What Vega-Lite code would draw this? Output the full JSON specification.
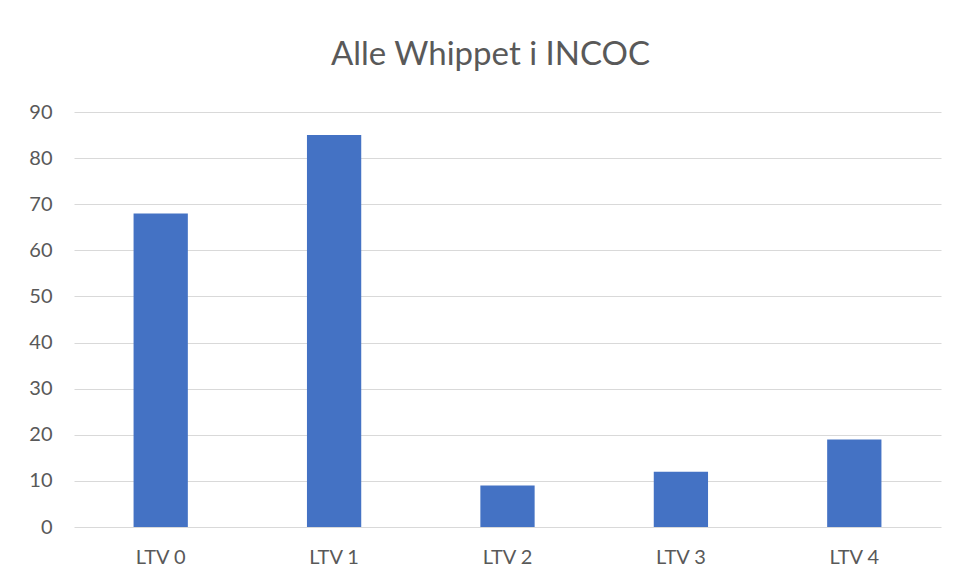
{
  "$schema": "https://vega.github.io/schema/vega-lite/v6.json",
  "width": 867,
  "height": 415,
  "autosize": {"type": "none"},
  "padding": {"left": 74, "top": 112, "right": 18, "bottom": 54},
  "background": "white",
  "config": {"view": {"stroke": null}, "font": "Lato"},
  "title": {
    "text": "Alle Whippet i INCOC",
    "font": "Lato",
    "fontSize": 33,
    "fontWeight": "normal",
    "color": "#595959",
    "anchor": "middle",
    "baseline": "alphabetic",
    "offset": 4,
    "dx": -17
  },
  "data": {
    "values": [
      {"kategori": "LTV 0", "antal": 68},
      {"kategori": "LTV 1", "antal": 85},
      {"kategori": "LTV 2", "antal": 9},
      {"kategori": "LTV 3", "antal": 12},
      {"kategori": "LTV 4", "antal": 19}
    ]
  },
  "mark": {"type": "bar", "color": "#4472C4"},
  "encoding": {
    "x": {
      "field": "kategori",
      "type": "nominal",
      "sort": null,
      "scale": {"paddingInner": 0.687, "paddingOuter": 0.3435},
      "axis": {
        "title": null,
        "labelAngle": 0,
        "labelFont": "Lato",
        "labelFontSize": 20,
        "labelColor": "#595959",
        "ticks": false,
        "domain": false,
        "labelPadding": 20
      }
    },
    "y": {
      "field": "antal",
      "type": "quantitative",
      "scale": {"domain": [0, 90], "nice": false},
      "axis": {
        "title": null,
        "values": [0, 10, 20, 30, 40, 50, 60, 70, 80, 90],
        "labelFont": "Lato",
        "labelFontSize": 20,
        "labelColor": "#595959",
        "ticks": false,
        "domain": false,
        "labelPadding": 22,
        "grid": true,
        "gridColor": "#d9d9d9",
        "gridWidth": 1.2
      }
    }
  }
}
